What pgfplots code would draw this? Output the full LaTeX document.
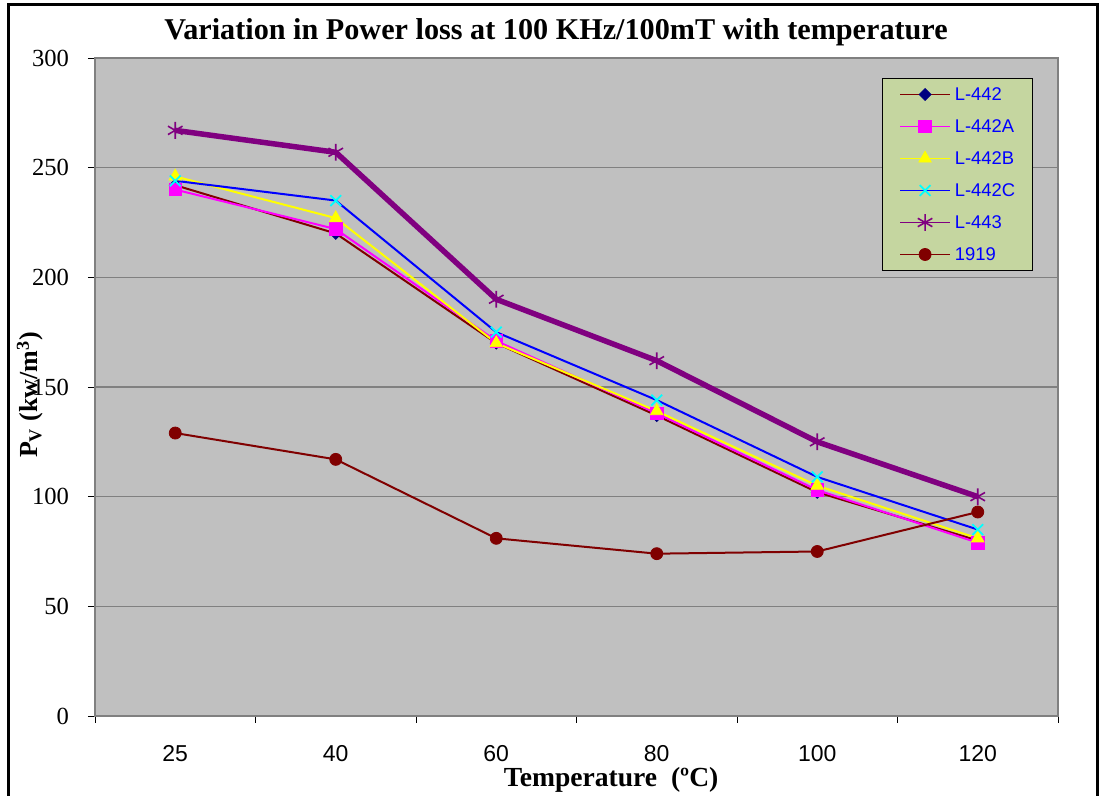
\documentclass[border=0pt]{standalone}
\usepackage{fontspec}
\setmainfont{Liberation Serif}
\newfontfamily\arial{Liberation Sans}
\usepackage{pgfplots}
\pgfplotsset{compat=1.18}
\definecolor{plotbg}{RGB}{192,192,192}
\definecolor{gridc}{RGB}{128,128,128}
\definecolor{legbg}{RGB}{197,214,160}
\definecolor{darkred}{RGB}{128,0,0}
\definecolor{navyb}{RGB}{0,0,128}
\definecolor{purp}{RGB}{128,0,128}
\definecolor{magen}{RGB}{255,0,255}
\definecolor{yell}{RGB}{255,255,0}
\definecolor{cyanx}{RGB}{0,255,255}
\definecolor{blueb}{RGB}{0,0,255}

\pgfplotstableread{
x  L442 L442A L442B L442C L443 S1919
0.5 242 240 246 244 267 129
1.5 220 222 227 235 257 117
2.5 170 171 170 175 190 81
3.5 137 138 139 144 162 74
4.5 102 103 105 109 125 75
5.5 80  79  81  85  100 93
}\datatable

\begin{document}
\begin{tikzpicture}
\useasboundingbox (0,0) rectangle (551.5pt,398pt);
\begin{axis}[
  at={(47.5pt,40pt)}, anchor=south west,
  scale only axis, width=481.5pt, height=329pt,
  xmin=0, xmax=6, ymin=0, ymax=300,
  xtick={0.5,1.5,2.5,3.5,4.5,5.5},
  xticklabels={25,40,60,80,100,120},
  minor xtick={0,1,2,3,4,5,6},
  ytick={0,50,100,150,200,250,300},
  tick align=outside,
  xtick pos=left, ytick pos=left,
  major tick length=3.5pt, minor tick length=3.5pt,
  tick style={black, line width=0.4pt},
  major x tick style={draw=none},
  ymajorgrids, grid style={gridc, line width=0.6pt},
  axis background/.style={fill=plotbg},
  axis line style={gridc, line width=0.6pt},
  x tick label style={font=\arial\fontsize{11.5}{13}\selectfont, yshift=-7.5pt},
  y tick label style={font=\fontsize{12.3}{14}\selectfont, xshift=-6pt},
  /pgf/number format/assume math mode=true,
  xlabel={Temperature\ \ (ºC)},
  xlabel style={at={(axis description cs:0.536,-0.1064)}, anchor=base, font=\bfseries\fontsize{13.8}{16}\selectfont},
  ylabel={P\textsubscript{V} (kw/m\textsuperscript{3})},
  ylabel style={at={(axis description cs:-0.0675,0.488)}, anchor=center, font=\bfseries\fontsize{13}{15}\selectfont},
  legend style={at={(axis description cs:0.817,0.9696)}, anchor=north west, fill=legbg, draw=black, line width=0.5pt,
    inner xsep=8.5pt, inner ysep=0pt, font=\arial\fontsize{9.2}{10}\selectfont, text=blueb,
    nodes={inner sep=0pt, text height=11.2pt, text depth=4.8pt},
    row sep=0pt, /tikz/every odd column/.append style={column sep=2pt}},
  legend cell align=left,
  legend image code/.code={\draw[mark repeat=2, mark phase=2, #1, line width=0.8pt] plot coordinates {(0pt,0pt)(12.5pt,0pt)(25pt,0pt)};},
]
\addplot[darkred, line width=1pt, mark=square*, mark size=2.1pt, mark options={fill=navyb, draw=navyb, rotate=45, line width=0.4pt}] table[x=x, y=L442] {\datatable};
\addlegendentry{L-442}
\addplot[magen, line width=1pt, mark=square*, mark size=3.1pt, mark options={fill=magen, draw=magen, line width=0.4pt}] table[x=x, y=L442A] {\datatable};
\addlegendentry{L-442A}
\addplot[yell, line width=1pt, mark=triangle*, mark size=3.6pt, mark options={fill=yell, draw=yell, line width=0.4pt}] table[x=x, y=L442B] {\datatable};
\addlegendentry{L-442B}
\addplot[blueb, line width=1pt, mark=x, mark size=3.8pt, mark options={draw=cyanx, line width=0.9pt}] table[x=x, y=L442C] {\datatable};
\addlegendentry{L-442C}
\addplot[purp, line width=2.75pt, mark=asterisk, mark size=4.2pt, mark options={draw=purp, line width=0.8pt}] table[x=x, y=L443] {\datatable};
\addlegendentry{L-443}
\addplot[darkred, line width=1pt, mark=*, mark size=3pt, mark options={fill=darkred, draw=darkred, line width=0.4pt}] table[x=x, y=S1919] {\datatable};
\addlegendentry{1919}
\end{axis}
\node[anchor=base, font=\bfseries\fontsize{15.1}{18}\selectfont] at (278pt,378pt) {Variation in Power loss at 100 KHz/100mT with temperature};
\draw[line width=1.5pt] (4.25pt,-3pt) -- (4.25pt,395.5pt) -- (548.5pt,395.5pt) -- (548.5pt,-3pt);
\end{tikzpicture}
\end{document}
